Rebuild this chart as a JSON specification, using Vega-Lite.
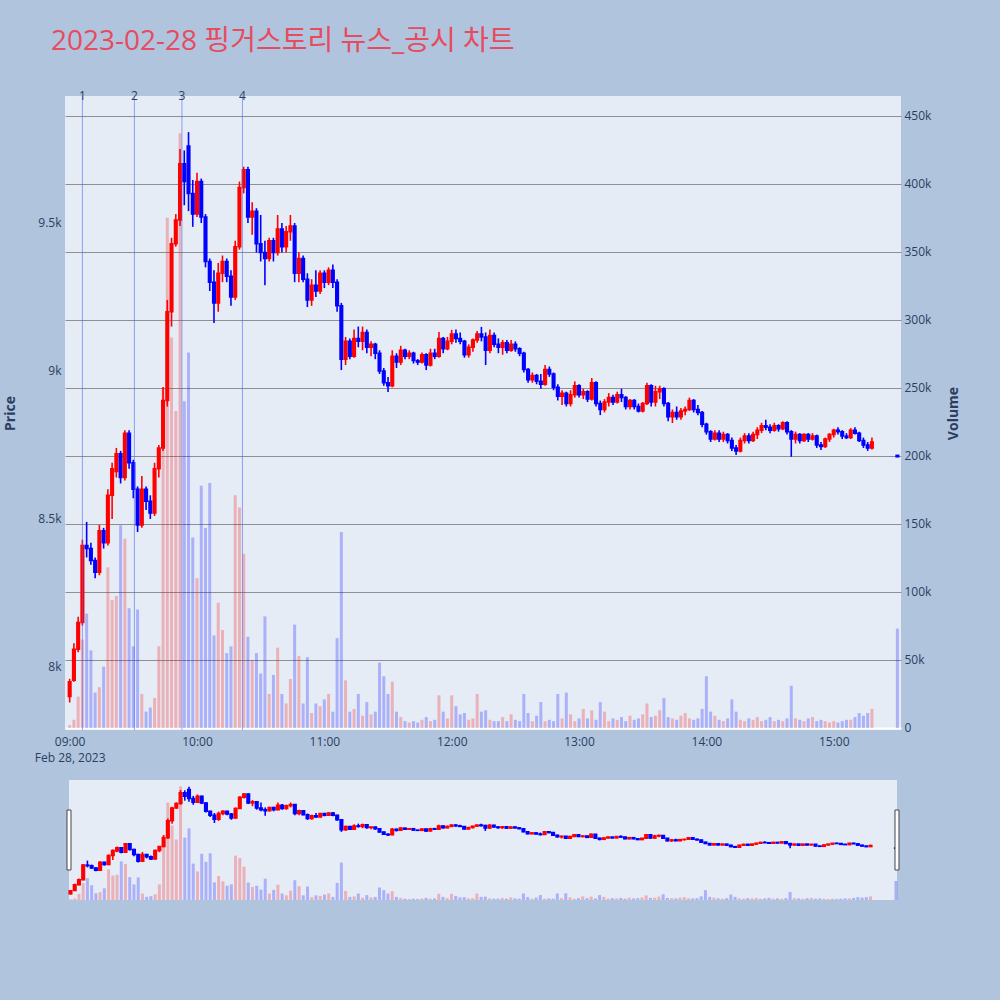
{
"$schema": "https://vega.github.io/schema/vega-lite/v6.json",
"background": "#B0C4DE",
"padding": {"left": 3, "top": 28, "right": 40, "bottom": 100},
"title": {"text": "2023-02-28 핑거스토리 뉴스_공시 차트", "anchor": "start", "frame": "group", "fontSize": 28, "font": "Open Sans, Noto Sans CJK KR", "fontWeight": "normal", "color": "#E64B5F", "offset": 34, "dx": -14},
"bounds": "flush",
"spacing": 50,
"center": true,
"config": {
  "view": {"fill": "#E5ECF6", "stroke": null},
  "font": "Open Sans",
  "axis": {"ticks": false, "domain": false, "labelColor": "#2a3f5f", "titleColor": "#2a3f5f", "labelFontSize": 12, "labelFont": "Open Sans", "titleFont": "Open Sans"}
},
"datasets": {
"ev": [{"n":"1","m":6},{"n":"2","m":30.5},{"n":"3","m":52.9},{"n":"4","m":81.4}],
"k": [
{"m":0,"o":7900,"h":7960,"l":7880,"c":7950,"v":2000},
{"m":2,"o":7955,"h":8080,"l":7950,"c":8060,"v":6000},
{"m":4,"o":8060,"h":8170,"l":8050,"c":8150,"v":23000},
{"m":6,"o":8150,"h":8430,"l":8140,"c":8410,"v":65000},
{"m":8,"o":8410,"h":8490,"l":8370,"c":8400,"v":84000},
{"m":10,"o":8400,"h":8420,"l":8345,"c":8360,"v":57000},
{"m":12,"o":8360,"h":8370,"l":8300,"c":8320,"v":26000},
{"m":14,"o":8320,"h":8480,"l":8310,"c":8460,"v":30000},
{"m":16,"o":8460,"h":8470,"l":8400,"c":8420,"v":45000},
{"m":18,"o":8420,"h":8600,"l":8410,"c":8580,"v":118000},
{"m":20,"o":8580,"h":8690,"l":8500,"c":8670,"v":94000},
{"m":22,"o":8660,"h":8740,"l":8640,"c":8720,"v":97000},
{"m":24,"o":8720,"h":8730,"l":8620,"c":8640,"v":149000},
{"m":26,"o":8640,"h":8800,"l":8630,"c":8790,"v":139000},
{"m":28,"o":8790,"h":8800,"l":8670,"c":8690,"v":88000},
{"m":30,"o":8690,"h":8700,"l":8570,"c":8600,"v":60000},
{"m":32,"o":8600,"h":8610,"l":8456,"c":8480,"v":87000},
{"m":34,"o":8480,"h":8645,"l":8470,"c":8600,"v":25000},
{"m":36,"o":8600,"h":8610,"l":8530,"c":8560,"v":12000},
{"m":38,"o":8560,"h":8580,"l":8500,"c":8520,"v":15000},
{"m":40,"o":8520,"h":8690,"l":8510,"c":8670,"v":22000},
{"m":42,"o":8670,"h":8750,"l":8640,"c":8740,"v":60000},
{"m":44,"o":8740,"h":8946,"l":8730,"c":8900,"v":250000},
{"m":46,"o":8900,"h":9240,"l":8880,"c":9200,"v":375000},
{"m":48,"o":9200,"h":9450,"l":9150,"c":9430,"v":287000},
{"m":50,"o":9430,"h":9530,"l":9420,"c":9510,"v":233000},
{"m":52,"o":9510,"h":9750,"l":9490,"c":9700,"v":437000},
{"m":54,"o":9700,"h":9745,"l":9560,"c":9640,"v":240000},
{"m":56,"o":9760,"h":9807,"l":9540,"c":9600,"v":276000},
{"m":58,"o":9600,"h":9645,"l":9487,"c":9530,"v":140000},
{"m":60,"o":9530,"h":9670,"l":9520,"c":9640,"v":110000},
{"m":62,"o":9640,"h":9650,"l":9500,"c":9520,"v":178000},
{"m":64,"o":9520,"h":9530,"l":9350,"c":9370,"v":147000},
{"m":66,"o":9370,"h":9380,"l":9270,"c":9300,"v":180000},
{"m":68,"o":9300,"h":9340,"l":9162,"c":9230,"v":68000},
{"m":70,"o":9230,"h":9365,"l":9200,"c":9330,"v":92000},
{"m":72,"o":9330,"h":9390,"l":9300,"c":9370,"v":72000},
{"m":74,"o":9370,"h":9380,"l":9300,"c":9320,"v":55000},
{"m":76,"o":9320,"h":9340,"l":9220,"c":9250,"v":60000},
{"m":78,"o":9250,"h":9440,"l":9240,"c":9420,"v":171000},
{"m":80,"o":9420,"h":9640,"l":9410,"c":9620,"v":162000},
{"m":82,"o":9620,"h":9690,"l":9600,"c":9680,"v":128000},
{"m":84,"o":9680,"h":9690,"l":9500,"c":9520,"v":67000},
{"m":86,"o":9520,"h":9570,"l":9460,"c":9540,"v":50000},
{"m":88,"o":9540,"h":9550,"l":9400,"c":9430,"v":55000},
{"m":90,"o":9430,"h":9527,"l":9370,"c":9400,"v":40000},
{"m":92,"o":9400,"h":9440,"l":9290,"c":9380,"v":82000},
{"m":94,"o":9380,"h":9450,"l":9370,"c":9440,"v":25000},
{"m":96,"o":9440,"h":9450,"l":9370,"c":9400,"v":39000},
{"m":98,"o":9400,"h":9527,"l":9390,"c":9480,"v":59000},
{"m":100,"o":9480,"h":9500,"l":9400,"c":9420,"v":25000},
{"m":102,"o":9420,"h":9490,"l":9400,"c":9470,"v":18000},
{"m":104,"o":9470,"h":9527,"l":9440,"c":9490,"v":36000},
{"m":106,"o":9490,"h":9500,"l":9300,"c":9330,"v":76000},
{"m":108,"o":9330,"h":9400,"l":9300,"c":9380,"v":53000},
{"m":110,"o":9380,"h":9390,"l":9300,"c":9310,"v":18000},
{"m":112,"o":9310,"h":9330,"l":9216,"c":9240,"v":52000},
{"m":114,"o":9240,"h":9310,"l":9220,"c":9290,"v":11000},
{"m":116,"o":9290,"h":9340,"l":9250,"c":9270,"v":18000},
{"m":118,"o":9270,"h":9340,"l":9260,"c":9330,"v":16000},
{"m":120,"o":9330,"h":9340,"l":9280,"c":9300,"v":21000},
{"m":122,"o":9300,"h":9350,"l":9290,"c":9340,"v":25000},
{"m":124,"o":9340,"h":9360,"l":9280,"c":9300,"v":12000},
{"m":126,"o":9300,"h":9310,"l":9200,"c":9220,"v":66000},
{"m":128,"o":9220,"h":9230,"l":9003,"c":9040,"v":144000},
{"m":130,"o":9040,"h":9115,"l":9020,"c":9100,"v":35000},
{"m":132,"o":9100,"h":9110,"l":9040,"c":9050,"v":12000},
{"m":134,"o":9050,"h":9140,"l":9045,"c":9110,"v":14000},
{"m":136,"o":9110,"h":9150,"l":9080,"c":9100,"v":25000},
{"m":138,"o":9100,"h":9150,"l":9070,"c":9130,"v":9000},
{"m":140,"o":9130,"h":9140,"l":9060,"c":9080,"v":19000},
{"m":142,"o":9080,"h":9100,"l":9050,"c":9090,"v":10000},
{"m":144,"o":9090,"h":9095,"l":9040,"c":9060,"v":12000},
{"m":146,"o":9060,"h":9070,"l":8990,"c":9000,"v":48000},
{"m":148,"o":9000,"h":9010,"l":8950,"c":8960,"v":38000},
{"m":150,"o":8960,"h":8980,"l":8929,"c":8950,"v":25000},
{"m":152,"o":8950,"h":9070,"l":8945,"c":9050,"v":34000},
{"m":154,"o":9050,"h":9060,"l":9010,"c":9030,"v":12000},
{"m":156,"o":9030,"h":9085,"l":9020,"c":9070,"v":8000},
{"m":158,"o":9070,"h":9075,"l":9040,"c":9050,"v":5000},
{"m":160,"o":9050,"h":9070,"l":9040,"c":9060,"v":4000},
{"m":162,"o":9060,"h":9065,"l":9025,"c":9035,"v":5000},
{"m":164,"o":9035,"h":9040,"l":9020,"c":9030,"v":4000},
{"m":166,"o":9030,"h":9062,"l":9025,"c":9055,"v":6000},
{"m":168,"o":9055,"h":9060,"l":9003,"c":9020,"v":8000},
{"m":170,"o":9020,"h":9075,"l":9015,"c":9060,"v":5000},
{"m":172,"o":9060,"h":9075,"l":9040,"c":9050,"v":6000},
{"m":174,"o":9050,"h":9132,"l":9045,"c":9110,"v":24000},
{"m":176,"o":9110,"h":9115,"l":9060,"c":9075,"v":12000},
{"m":178,"o":9075,"h":9115,"l":9070,"c":9100,"v":7000},
{"m":180,"o":9100,"h":9139,"l":9090,"c":9125,"v":24000},
{"m":182,"o":9125,"h":9140,"l":9095,"c":9110,"v":16000},
{"m":184,"o":9110,"h":9130,"l":9090,"c":9100,"v":10000},
{"m":186,"o":9100,"h":9105,"l":9045,"c":9055,"v":11000},
{"m":188,"o":9055,"h":9090,"l":9045,"c":9080,"v":6000},
{"m":190,"o":9080,"h":9110,"l":9065,"c":9105,"v":7000},
{"m":192,"o":9105,"h":9135,"l":9095,"c":9125,"v":25000},
{"m":194,"o":9125,"h":9149,"l":9100,"c":9115,"v":12000},
{"m":196,"o":9115,"h":9130,"l":9020,"c":9070,"v":13000},
{"m":198,"o":9070,"h":9140,"l":9060,"c":9120,"v":6000},
{"m":200,"o":9120,"h":9130,"l":9080,"c":9090,"v":5000},
{"m":202,"o":9090,"h":9110,"l":9060,"c":9080,"v":5000},
{"m":204,"o":9080,"h":9105,"l":9055,"c":9095,"v":8000},
{"m":206,"o":9095,"h":9105,"l":9060,"c":9070,"v":5000},
{"m":208,"o":9070,"h":9105,"l":9065,"c":9090,"v":10000},
{"m":210,"o":9090,"h":9100,"l":9065,"c":9075,"v":6000},
{"m":212,"o":9075,"h":9080,"l":9050,"c":9060,"v":5000},
{"m":214,"o":9060,"h":9065,"l":8995,"c":9005,"v":25000},
{"m":216,"o":9005,"h":9010,"l":8960,"c":8970,"v":11000},
{"m":218,"o":8970,"h":8995,"l":8960,"c":8985,"v":5000},
{"m":220,"o":8985,"h":8990,"l":8955,"c":8965,"v":9000},
{"m":222,"o":8965,"h":8990,"l":8940,"c":8955,"v":19000},
{"m":224,"o":8955,"h":9020,"l":8950,"c":9005,"v":5000},
{"m":226,"o":9005,"h":9015,"l":8980,"c":8990,"v":6000},
{"m":228,"o":8990,"h":8995,"l":8935,"c":8945,"v":5000},
{"m":230,"o":8945,"h":8955,"l":8900,"c":8915,"v":25000},
{"m":232,"o":8915,"h":8935,"l":8885,"c":8925,"v":7000},
{"m":234,"o":8925,"h":8930,"l":8880,"c":8890,"v":26000},
{"m":236,"o":8890,"h":8935,"l":8880,"c":8920,"v":10000},
{"m":238,"o":8920,"h":8965,"l":8910,"c":8950,"v":5000},
{"m":240,"o":8950,"h":8955,"l":8910,"c":8920,"v":7000},
{"m":242,"o":8920,"h":8940,"l":8905,"c":8930,"v":14000},
{"m":244,"o":8930,"h":8935,"l":8895,"c":8905,"v":7000},
{"m":246,"o":8905,"h":8976,"l":8900,"c":8960,"v":13000},
{"m":248,"o":8960,"h":8965,"l":8880,"c":8890,"v":6000},
{"m":250,"o":8890,"h":8900,"l":8851,"c":8870,"v":19000},
{"m":252,"o":8870,"h":8905,"l":8860,"c":8895,"v":12000},
{"m":254,"o":8895,"h":8925,"l":8880,"c":8910,"v":5000},
{"m":256,"o":8910,"h":8920,"l":8885,"c":8895,"v":7000},
{"m":258,"o":8895,"h":8930,"l":8890,"c":8920,"v":6000},
{"m":260,"o":8920,"h":8940,"l":8895,"c":8910,"v":8000},
{"m":262,"o":8910,"h":8915,"l":8870,"c":8880,"v":5000},
{"m":264,"o":8880,"h":8905,"l":8870,"c":8900,"v":9000},
{"m":266,"o":8900,"h":8905,"l":8870,"c":8880,"v":6000},
{"m":268,"o":8880,"h":8890,"l":8860,"c":8865,"v":7000},
{"m":270,"o":8865,"h":8895,"l":8860,"c":8890,"v":10000},
{"m":272,"o":8890,"h":8960,"l":8885,"c":8950,"v":18000},
{"m":274,"o":8950,"h":8955,"l":8880,"c":8895,"v":8000},
{"m":276,"o":8895,"h":8950,"l":8880,"c":8930,"v":9000},
{"m":278,"o":8930,"h":8950,"l":8905,"c":8940,"v":13000},
{"m":280,"o":8940,"h":8945,"l":8880,"c":8890,"v":22000},
{"m":282,"o":8890,"h":8895,"l":8830,"c":8845,"v":8000},
{"m":284,"o":8845,"h":8870,"l":8824,"c":8860,"v":7000},
{"m":286,"o":8860,"h":8880,"l":8835,"c":8845,"v":6000},
{"m":288,"o":8845,"h":8875,"l":8835,"c":8865,"v":9000},
{"m":290,"o":8865,"h":8880,"l":8850,"c":8870,"v":11000},
{"m":292,"o":8870,"h":8910,"l":8865,"c":8900,"v":7000},
{"m":294,"o":8900,"h":8905,"l":8860,"c":8870,"v":6000},
{"m":296,"o":8870,"h":8885,"l":8850,"c":8860,"v":7000},
{"m":298,"o":8860,"h":8865,"l":8810,"c":8820,"v":14000},
{"m":300,"o":8820,"h":8825,"l":8785,"c":8795,"v":38000},
{"m":302,"o":8795,"h":8800,"l":8760,"c":8770,"v":12000},
{"m":304,"o":8770,"h":8800,"l":8765,"c":8790,"v":9000},
{"m":306,"o":8790,"h":8800,"l":8760,"c":8770,"v":6000},
{"m":308,"o":8770,"h":8795,"l":8760,"c":8785,"v":5000},
{"m":310,"o":8785,"h":8790,"l":8755,"c":8765,"v":7000},
{"m":312,"o":8765,"h":8775,"l":8730,"c":8740,"v":21000},
{"m":314,"o":8740,"h":8750,"l":8716,"c":8730,"v":12000},
{"m":316,"o":8730,"h":8775,"l":8725,"c":8765,"v":6000},
{"m":318,"o":8765,"h":8790,"l":8755,"c":8780,"v":5000},
{"m":320,"o":8780,"h":8790,"l":8755,"c":8765,"v":7000},
{"m":322,"o":8765,"h":8795,"l":8760,"c":8785,"v":6000},
{"m":324,"o":8785,"h":8810,"l":8770,"c":8800,"v":8000},
{"m":326,"o":8800,"h":8825,"l":8790,"c":8815,"v":5000},
{"m":328,"o":8815,"h":8835,"l":8800,"c":8810,"v":6000},
{"m":330,"o":8810,"h":8820,"l":8790,"c":8800,"v":8000},
{"m":332,"o":8800,"h":8825,"l":8795,"c":8815,"v":5000},
{"m":334,"o":8815,"h":8820,"l":8795,"c":8805,"v":6000},
{"m":336,"o":8805,"h":8830,"l":8800,"c":8825,"v":5000},
{"m":338,"o":8825,"h":8830,"l":8785,"c":8795,"v":7000},
{"m":340,"o":8795,"h":8800,"l":8710,"c":8770,"v":31000},
{"m":342,"o":8770,"h":8795,"l":8755,"c":8785,"v":7000},
{"m":344,"o":8785,"h":8790,"l":8755,"c":8765,"v":6000},
{"m":346,"o":8765,"h":8790,"l":8760,"c":8785,"v":5000},
{"m":348,"o":8785,"h":8790,"l":8760,"c":8770,"v":7000},
{"m":350,"o":8770,"h":8790,"l":8765,"c":8780,"v":8000},
{"m":352,"o":8780,"h":8785,"l":8740,"c":8750,"v":5000},
{"m":354,"o":8750,"h":8760,"l":8733,"c":8745,"v":6000},
{"m":356,"o":8745,"h":8775,"l":8740,"c":8770,"v":5000},
{"m":358,"o":8770,"h":8790,"l":8760,"c":8785,"v":4000},
{"m":360,"o":8785,"h":8805,"l":8775,"c":8800,"v":5000},
{"m":362,"o":8800,"h":8810,"l":8785,"c":8795,"v":4000},
{"m":364,"o":8795,"h":8800,"l":8770,"c":8780,"v":5000},
{"m":366,"o":8780,"h":8790,"l":8770,"c":8775,"v":6000},
{"m":368,"o":8775,"h":8807,"l":8770,"c":8800,"v":6000},
{"m":370,"o":8800,"h":8810,"l":8785,"c":8790,"v":8000},
{"m":372,"o":8790,"h":8795,"l":8760,"c":8765,"v":11000},
{"m":374,"o":8765,"h":8775,"l":8740,"c":8750,"v":9000},
{"m":376,"o":8750,"h":8760,"l":8730,"c":8740,"v":11000},
{"m":378,"o":8740,"h":8775,"l":8735,"c":8760,"v":14000},
{"m":390,"o":8715,"h":8715,"l":8710,"c":8710,"v":73000}
]
},
"vconcat": [
{
  "width": 836, "height": 634,
  "data": {"name": "k"},
  "encoding": {"x": {"field": "m", "type": "quantitative", "scale": {"domain": [-2.2, 391.7], "nice": false, "zero": false, "padding": 0},
    "axis": {"title": null, "grid": false, "values": [0, 60, 120, 180, 240, 300, 360], "labelExpr": "datum.value == 0 ? ['09:00', 'Feb 28, 2023'] : (floor(datum.value / 60) + 9) + ':00'", "labelPadding": 6, "labelLineHeight": 16}}},
  "layer": [
    {"mark": {"type": "bar", "size": 3, "opacity": 0.25},
     "encoding": {
       "y": {"field": "v", "type": "quantitative", "scale": {"domain": [-1500, 464400], "nice": false, "zero": false},
         "axis": {"orient": "right", "title": "Volume", "values": [0,50000,100000,150000,200000,250000,300000,350000,400000,450000], "labelExpr": "datum.value == 0 ? '0' : format(datum.value, '~s')", "labelPadding": 3,
           "gridColor": {"condition": {"test": "datum.value === 0", "value": "white"}, "value": "#8f8f8f"},
           "gridWidth": {"condition": {"test": "datum.value === 0", "value": 2}, "value": 1.2},
           "titleAngle": -90, "titleX": 52, "titleY": 317, "titleAlign": "center", "titleBaseline": "middle", "titleFontSize": 14, "titleFontWeight": "bold"}},
       "y2": {"datum": 0},
       "color": {"condition": {"test": "datum.c >= datum.o", "value": "#FF0000"}, "value": "#0000FF"}}},
    {"layer": [
      {"mark": {"type": "rule", "strokeWidth": 1.6},
       "encoding": {
         "y": {"field": "l", "type": "quantitative", "scale": {"domain": [7787, 9929], "nice": false, "zero": false},
           "axis": {"orient": "left", "title": "Price", "values": [8000, 8500, 9000, 9500], "labelExpr": "format(datum.value, '~s')", "labelPadding": 4, "gridColor": "white", "gridWidth": 1,
             "titleAngle": -90, "titleX": -55, "titleY": 317, "titleAlign": "center", "titleBaseline": "middle", "titleFontSize": 14, "titleFontWeight": "bold"}},
         "y2": {"field": "h"},
         "color": {"condition": {"test": "datum.c >= datum.o", "value": "#FF0000"}, "value": "#0000FF"}}},
      {"mark": {"type": "bar", "size": 2.6, "strokeWidth": 1.5},
       "encoding": {
         "y": {"field": "o", "type": "quantitative", "scale": {"domain": [7787, 9929], "nice": false, "zero": false},
           "axis": {"orient": "left", "title": "Price", "values": [8000, 8500, 9000, 9500], "labelExpr": "format(datum.value, '~s')", "labelPadding": 4, "gridColor": "white", "gridWidth": 1,
             "titleAngle": -90, "titleX": -55, "titleY": 317, "titleAlign": "center", "titleBaseline": "middle", "titleFontSize": 14, "titleFontWeight": "bold"}},
         "y2": {"field": "c"},
         "color": {"condition": {"test": "datum.c >= datum.o", "value": "#FF0000"}, "value": "#0000FF"},
         "stroke": {"condition": {"test": "datum.c >= datum.o", "value": "#FF0000"}, "value": "#0000FF"}}},
      {"data": {"name": "ev"}, "mark": {"type": "rule", "color": "#4a6cf7", "opacity": 0.6, "strokeWidth": 1}, "encoding": {}},
      {"data": {"name": "ev"}, "mark": {"type": "text", "baseline": "middle", "fontSize": 12, "color": "#2a3f5f"},
       "encoding": {"y": {"datum": 9929, "type": "quantitative", "scale": {"domain": [7787, 9929], "nice": false, "zero": false},
           "axis": {"orient": "left", "title": "Price", "values": [8000, 8500, 9000, 9500], "labelExpr": "format(datum.value, '~s')", "labelPadding": 4, "gridColor": "white", "gridWidth": 1,
             "titleAngle": -90, "titleX": -55, "titleY": 317, "titleAlign": "center", "titleBaseline": "middle", "titleFontSize": 14, "titleFontWeight": "bold"}},
         "text": {"field": "n"}}}
    ]}
  ],
  "resolve": {"scale": {"y": "independent"}}
},
{
  "width": 828, "height": 120,
  "data": {"name": "k"},
  "encoding": {"x": {"field": "m", "type": "quantitative", "scale": {"domain": [-0.7, 390.5], "nice": false, "zero": false, "padding": 0}, "axis": null}},
  "layer": [
    {"mark": {"type": "bar", "size": 3, "opacity": 0.25},
     "encoding": {
       "y": {"field": "v", "type": "quantitative", "scale": {"domain": [0, 462000], "nice": false}, "axis": null},
       "y2": {"datum": 0},
       "color": {"condition": {"test": "datum.c >= datum.o", "value": "#FF0000"}, "value": "#0000FF"}}},
    {"layer": [
      {"mark": {"type": "rule", "strokeWidth": 1.6},
       "encoding": {
         "y": {"field": "l", "type": "quantitative", "scale": {"domain": [7787, 9929], "nice": false, "zero": false}, "axis": null},
         "y2": {"field": "h"},
         "color": {"condition": {"test": "datum.c >= datum.o", "value": "#FF0000"}, "value": "#0000FF"}}},
      {"mark": {"type": "bar", "size": 2.6, "strokeWidth": 1.5},
       "encoding": {
         "y": {"field": "o", "type": "quantitative", "scale": {"domain": [7787, 9929], "nice": false, "zero": false}, "axis": null},
         "y2": {"field": "c"},
         "color": {"condition": {"test": "datum.c >= datum.o", "value": "#FF0000"}, "value": "#0000FF"},
         "stroke": {"condition": {"test": "datum.c >= datum.o", "value": "#FF0000"}, "value": "#0000FF"}}}
    ]},
    {"data": {"values": [{"handle": "left", "lo": -1.65, "hi": 0.24}, {"handle": "right", "lo": 389.55, "hi": 391.44}]},
     "mark": {"type": "rect", "fill": "white", "stroke": "#444444", "strokeWidth": 1, "opacity": 1},
     "encoding": {"x": {"field": "lo", "type": "quantitative", "scale": {"domain": [-0.7, 390.5], "nice": false, "zero": false, "padding": 0}, "axis": null}, "x2": {"field": "hi"},
       "y": {"datum": 0.25, "type": "quantitative", "scale": {"domain": [0, 1], "nice": false, "zero": false}, "axis": null}, "y2": {"datum": 0.75}}}
  ],
  "resolve": {"scale": {"y": "independent"}}
}
]
}
